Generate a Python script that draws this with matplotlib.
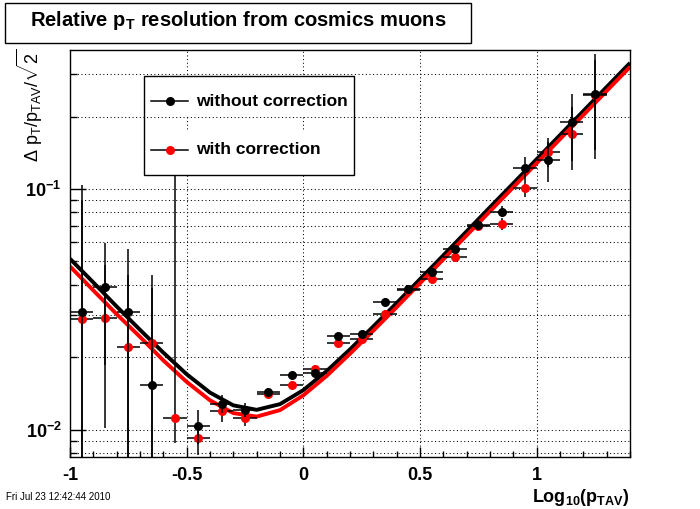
import numpy as np
import matplotlib
matplotlib.use("Agg")
import matplotlib.pyplot as plt
from matplotlib.patches import Rectangle
from matplotlib.lines import Line2D
from matplotlib.transforms import Affine2D
from matplotlib.ticker import FixedLocator, FixedFormatter, NullFormatter, MultipleLocator

plt.rcParams['font.family'] = ['Liberation Sans', 'DejaVu Sans']
plt.rcParams['mathtext.fontset'] = 'custom'
plt.rcParams['mathtext.rm'] = 'Liberation Sans'
plt.rcParams['mathtext.bf'] = 'Liberation Sans:bold'
plt.rcParams['mathtext.it'] = 'Liberation Sans:italic'

# bin centres in log10(pT)
log_pt = [-0.95, -0.85, -0.75, -0.65, -0.55, -0.45, -0.35, -0.25, -0.15, -0.05,
          0.05, 0.15, 0.25, 0.35, 0.45, 0.55, 0.65, 0.75, 0.85, 0.95, 1.05, 1.15, 1.25]
bin_half = 0.05

# without correction (black)
res_raw = [0.0307, 0.0391, 0.0307, 0.0153, np.nan, 0.0104, 0.0128, 0.0121, 0.0143, 0.0168,
           0.0172, 0.0245, 0.0249, 0.0339, 0.0384, 0.0451, 0.0562, 0.0710, 0.0806, 0.1225,
           0.1318, 0.189, 0.248]
err_raw = [0.073, 0.0205, 0.0256, 0.0235, np.nan, 0.0017, 0.0011, 0.0008, 0.0006, 0.0006,
           0.0006, 0.0008, 0.0009, 0.0012, 0.0014, 0.0018, 0.0025, 0.003, 0.004, 0.0135,
           0.025, 0.058, 0.115]

# with correction (red)
res_cor = [0.0288, 0.0292, 0.0220, 0.0229, 0.0112, 0.00925, 0.0120, 0.0112, 0.0141, 0.0153,
           0.0179, 0.0229, 0.0238, 0.0303, 0.0380, 0.0422, 0.0524, 0.0700, 0.0716, 0.1007,
           0.143, 0.170, 0.245]
err_cor_lo = [0.06, 0.019, 0.022, 0.021, 0.0024, 0.0014, 0.0012, 0.0008, 0.0006, 0.0006,
              0.0006, 0.0008, 0.0009, 0.0012, 0.0014, 0.0017, 0.0023, 0.003, 0.004, 0.008,
              0.02, 0.05, 0.1]
err_cor_hi = [0.06, 0.019, 0.022, 0.021, 0.112, 0.0014, 0.0012, 0.0008, 0.0006, 0.0006,
              0.0006, 0.0008, 0.0009, 0.0012, 0.0014, 0.0017, 0.0023, 0.003, 0.004, 0.008,
              0.02, 0.05, 0.1]

# fitted curves
fit_x = [-1.0, -0.9, -0.8, -0.7, -0.6, -0.5, -0.4, -0.3, -0.2, -0.1, 0.0, 0.1, 0.2,
         0.3, 0.4, 0.5, 0.6, 0.7, 0.8, 0.9, 1.0, 1.1, 1.2, 1.3, 1.4]
fit_raw = [0.0513, 0.0409, 0.0325, 0.0260, 0.0209, 0.0170, 0.01426, 0.01262, 0.01209, 0.01277,
           0.0146, 0.01752, 0.02156, 0.02685, 0.0336, 0.0422, 0.0530, 0.0667, 0.0840, 0.1056,
           0.133, 0.1675, 0.2108, 0.2654, 0.334]
fit_cor = [0.0477, 0.0379, 0.0302, 0.0243, 0.0194, 0.0158, 0.01324, 0.01172, 0.01133, 0.01206,
           0.01389, 0.01673, 0.02068, 0.0258, 0.0323, 0.0406, 0.0510, 0.0642, 0.0808, 0.1017,
           0.128, 0.1611, 0.2029, 0.2554, 0.3215]

W, H = 700, 509
fig = plt.figure(figsize=(W / 100, H / 100), dpi=100)
ax = fig.add_axes([70 / W, 1 - 457 / H, 560 / W, 407 / H])
# pixel coordinates, origin top-left like the reference image
px = Affine2D().scale(1 / W, -1 / H).translate(0, 1) + fig.transFigure


def low_err(y, e):
    y = np.asarray(y, float)
    e = np.asarray(e, float)
    return np.minimum(e, y - 1e-4)


ax.plot(fit_x, fit_raw, color='black', lw=2.8, zorder=2, solid_capstyle='butt')
ax.plot(fit_x, fit_cor, color='red', lw=2.8, zorder=2.1, solid_capstyle='butt')

ax.errorbar(log_pt, res_cor, xerr=bin_half,
            yerr=[low_err(res_cor, err_cor_lo), err_cor_hi],
            fmt='o', color='red', ecolor='black', elinewidth=1.1, ms=6.5, mew=0,
            capsize=0, zorder=3)
ax.errorbar(log_pt, res_raw, xerr=bin_half,
            yerr=[low_err(res_raw, err_raw), err_raw],
            fmt='o', color='black', ecolor='black', elinewidth=1.1, ms=6.5, mew=0,
            capsize=0, zorder=3.2)

ax.set_yscale('log')
ax.set_xlim(-1, 1.4)
ax.set_ylim(0.0077, 0.378)

ax.xaxis.set_minor_locator(MultipleLocator(0.1))
ax.set_xticks([-1, -0.5, 0, 0.5, 1])
ax.set_xticklabels(['-1', '-0.5', '0', '0.5', '1'], fontsize=13, fontweight='bold')

ax.yaxis.set_major_locator(FixedLocator([0.01, 0.1]))
ax.yaxis.set_major_formatter(FixedFormatter([r'$\mathbf{10^{-2}}$', r'$\mathbf{10^{-1}}$']))
minor = [m * 10.0 ** d for d in (-3, -2, -1) for m in range(2, 10)]
ax.yaxis.set_minor_locator(FixedLocator(minor))
ax.yaxis.set_minor_formatter(NullFormatter())
for lab in ax.get_yticklabels():
    lab.set_fontsize(13)

ax.tick_params(axis='x', which='major', direction='in', length=7, width=1, pad=7)
ax.tick_params(axis='x', which='minor', direction='in', length=4, width=1)
ax.tick_params(axis='y', which='major', direction='in', length=11.5, width=1, pad=6)
ax.tick_params(axis='y', which='minor', direction='in', length=5, width=1)
ax.tick_params(top=False, right=False, which='both')

ax.grid(True, axis='x', which='major', color='black', lw=0.75, ls=(0, (1, 2.5)))
ax.grid(True, axis='y', which='both', color='black', lw=0.75, ls=(0, (1, 2.5)))
for s in ax.spines.values():
    s.set_linewidth(1)

# legend, drawn in pixel coordinates
for y0, y1 in [(77, 117), (132, 175)]:
    fig.patches.append(Rectangle((144, y0), 210, y1 - y0, transform=px,
                                 facecolor='white', edgecolor='none', zorder=5))
fig.patches.append(Rectangle((144, 76), 210, 99, transform=px,
                             facecolor='none', edgecolor='black', lw=1, zorder=6))
for yy, col, txt in [(101, 'black', 'without correction'), (150, 'red', 'with correction')]:
    fig.lines.append(Line2D([151, 188], [yy, yy], transform=px, color='black', lw=1.1, zorder=6))
    fig.lines.append(Line2D([170], [yy], transform=px, marker='o', color=col, ms=6.5, mew=0,
                            zorder=7))
    fig.text(196 / W, 1 - yy / H, txt, fontsize=12.5, fontweight='bold', va='center',
             ha='left', zorder=7)

# title box
fig.patches.append(Rectangle((5, 3), 466, 40, transform=px,
                             facecolor='white', edgecolor='black', lw=1, zorder=5))
fig.text(238 / W, 1 - 21 / H, r'Relative p$_\mathbf{T}$ resolution from cosmics muons',
         fontsize=14.5, fontweight='bold', ha='center', va='center', zorder=6)

fig.text(30 / W, 1 - 49 / H, r'Δ p$_\mathrm{T}$/p$_\mathrm{TAV}$/$\sqrt{2}$',
         rotation=90, fontsize=13, ha='center', va='top')
fig.text(630 / W, 1 - 497 / H, r'Log$_\mathbf{10}$(p$_\mathbf{TAV}$)',
         fontsize=13, fontweight='bold', ha='right', va='center')
fig.text(6 / W, 1 - 497 / H, 'Fri Jul 23 12:42:44 2010', fontsize=7, ha='left', va='center')

fig.savefig('out.png', dpi=100)
